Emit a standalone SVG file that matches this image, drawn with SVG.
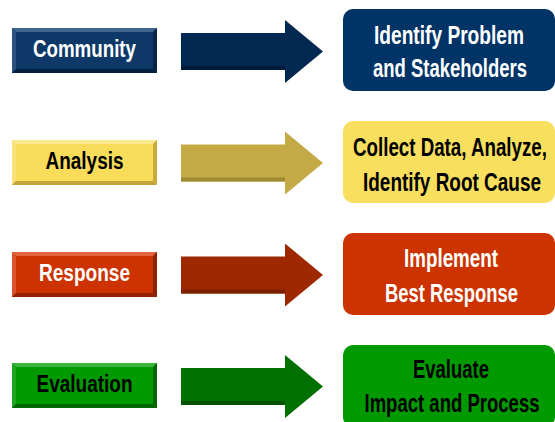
<svg xmlns="http://www.w3.org/2000/svg" width="555" height="422" viewBox="0 0 555 422">
<defs>
<style>
text{font-family:"Liberation Sans",Arial,sans-serif;font-weight:bold;text-anchor:middle}
.lt{font-size:23px}
.rt{font-size:26px}
.w{fill:#ffffff}
.k{fill:#000000}
.n-main{fill:#0d3868}.n-top{fill:#3f6490}.n-left{fill:#2a5281}.n-right{fill:#072549}.n-bot{fill:#05203f}
.y-main{fill:#f9dc5a}.y-top{fill:#fcea8e}.y-left{fill:#fae27a}.y-right{fill:#c9ab3c}.y-bot{fill:#c2a43a}
.r-main{fill:#cc3300}.r-top{fill:#e2643e}.r-left{fill:#d9532b}.r-right{fill:#8c2200}.r-bot{fill:#922400}
.g-main{fill:#009900}.g-top{fill:#3db43d}.g-left{fill:#22a622}.g-right{fill:#006600}.g-bot{fill:#006800}
.nb{fill:#003366}.yb{fill:#f9df5e}.rb{fill:#cc3300}.gb{fill:#009900}
.na{fill:#002850}.ya{fill:#c4aa45}.ra{fill:#9e2800}.ga{fill:#007000}
.nd{fill:#001a38}.yd{fill:#a08a30}.rd{fill:#7c1e00}.gd{fill:#005400}
</style>
<path id="arrow" d="M181,33 H285 V20 L323,51.5 L285,83 V70 H181 Z"/>
<path id="arrowShade" d="M181,66 H285 V70 H181 Z"/>
</defs>

<g id="community">
<rect class="n-main" x="12" y="28" width="145" height="45"/>
<polygon class="n-top" points="12,28 157,28 153,32 16,32"/>
<polygon class="n-left" points="12,28 16,32 16,69 12,73"/>
<polygon class="n-right" points="157,28 157,73 153,69 153,32"/>
<polygon class="n-bot" points="12,73 157,73 153,69 16,69"/>
<text class="lt w" transform="translate(84.5,57) scale(0.82,1)" textLength="125.6" lengthAdjust="spacingAndGlyphs">Community</text>
</g>

<g id="analysis">
<rect class="y-main" x="12" y="140" width="145" height="45"/>
<polygon class="y-top" points="12,140 157,140 153,144 16,144"/>
<polygon class="y-left" points="12,140 16,144 16,181 12,185"/>
<polygon class="y-right" points="157,140 157,185 153,181 153,144"/>
<polygon class="y-bot" points="12,185 157,185 153,181 16,181"/>
<text class="lt k" transform="translate(84.5,169) scale(0.82,1)" textLength="95.1" lengthAdjust="spacingAndGlyphs">Analysis</text>
</g>

<g id="response">
<rect class="r-main" x="12" y="252" width="145" height="45"/>
<polygon class="r-top" points="12,252 157,252 153,256 16,256"/>
<polygon class="r-left" points="12,252 16,256 16,293 12,297"/>
<polygon class="r-right" points="157,252 157,297 153,293 153,256"/>
<polygon class="r-bot" points="12,297 157,297 153,293 16,293"/>
<text class="lt w" transform="translate(84.5,281) scale(0.82,1)" textLength="111" lengthAdjust="spacingAndGlyphs">Response</text>
</g>

<g id="evaluation">
<rect class="g-main" x="12" y="363" width="145" height="45"/>
<polygon class="g-top" points="12,363 157,363 153,367 16,367"/>
<polygon class="g-left" points="12,363 16,367 16,404 12,408"/>
<polygon class="g-right" points="157,363 157,408 153,404 153,367"/>
<polygon class="g-bot" points="12,408 157,408 153,404 16,404"/>
<text class="lt k" transform="translate(84.5,392) scale(0.82,1)" textLength="117.1" lengthAdjust="spacingAndGlyphs">Evaluation</text>
</g>

<g id="connectors">
<use href="#arrow" class="na"/>
<use href="#arrowShade" class="nd"/>
<g transform="translate(0,111.5)">
<use href="#arrow" class="ya"/>
<use href="#arrowShade" class="yd"/>
</g>
<g transform="translate(0,223.5)">
<use href="#arrow" class="ra"/>
<use href="#arrowShade" class="rd"/>
</g>
<g transform="translate(0,335)">
<use href="#arrow" class="ga"/>
<use href="#arrowShade" class="gd"/>
</g>
</g>

<g id="identify">
<rect class="nb" x="343" y="9" width="212" height="82" rx="10"/>
<text class="rt w" transform="translate(449,44) scale(0.72,1)" textLength="208.3" lengthAdjust="spacingAndGlyphs">Identify Problem</text>
<text class="rt w" transform="translate(450,77) scale(0.72,1)" textLength="213.9" lengthAdjust="spacingAndGlyphs">and Stakeholders</text>
</g>

<g id="collect">
<rect class="yb" x="343" y="121" width="212" height="82" rx="10"/>
<text class="rt k" transform="translate(450,156) scale(0.72,1)" textLength="269.4" lengthAdjust="spacingAndGlyphs">Collect Data, Analyze,</text>
<text class="rt k" transform="translate(452,191) scale(0.72,1)" textLength="247.2" lengthAdjust="spacingAndGlyphs">Identify Root Cause</text>
</g>

<g id="implement">
<rect class="rb" x="343" y="233" width="212" height="82" rx="10"/>
<text class="rt w" transform="translate(451,267) scale(0.72,1)" textLength="130.6" lengthAdjust="spacingAndGlyphs">Implement</text>
<text class="rt w" transform="translate(451.5,302) scale(0.72,1)" textLength="184.7" lengthAdjust="spacingAndGlyphs">Best Response</text>
</g>

<g id="evaluate">
<rect class="gb" x="343" y="345" width="212" height="82" rx="10"/>
<text class="rt k" transform="translate(451,378) scale(0.72,1)" textLength="105.6" lengthAdjust="spacingAndGlyphs">Evaluate</text>
<text class="rt k" transform="translate(452,412) scale(0.72,1)" textLength="243.1" lengthAdjust="spacingAndGlyphs">Impact and Process</text>
</g>
</svg>
